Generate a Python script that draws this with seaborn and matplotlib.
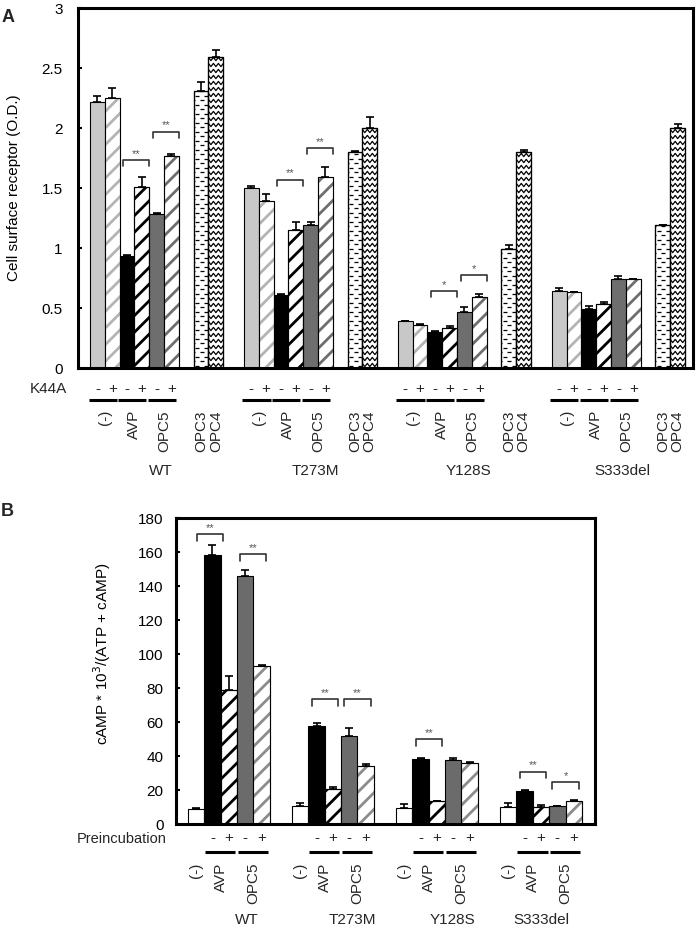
import numpy as np
import pandas as pd
import matplotlib
matplotlib.use('Agg')
import matplotlib.pyplot as plt
import seaborn as sns
from matplotlib.patches import Rectangle
from matplotlib.collections import LineCollection
from matplotlib.transforms import blended_transform_factory

sns.set_theme(style='white')
plt.rcParams['font.family'] = ['Liberation Sans', 'DejaVu Sans']
plt.rcParams['hatch.linewidth'] = 2.0
plt.rcParams['lines.scale_dashes'] = False

W, H = 700, 932

# ---- данные: панель A (поверхностный рецептор, O.D.) ----
mutants = ['WT', 'T273M', 'Y128S', 'S333del']
conds_a = ['(-) -', '(-) +', 'AVP -', 'AVP +', 'OPC5 -', 'OPC5 +', 'OPC3', 'OPC4']
surf_wt = [2.22, 2.25, 0.93, 1.51, 1.28, 1.77, 2.31, 2.59]
surf_wt_err = [0.05, 0.08, 0.01, 0.08, 0.01, 0.015, 0.07, 0.06]
surf_t273m = [1.50, 1.39, 0.61, 1.15, 1.19, 1.59, 1.80, 2.00]
surf_t273m_err = [0.02, 0.06, 0.005, 0.065, 0.03, 0.085, 0.01, 0.09]
surf_y128s = [0.39, 0.36, 0.30, 0.33, 0.47, 0.59, 0.99, 1.80]
surf_y128s_err = [0.005, 0.01, 0.005, 0.02, 0.04, 0.03, 0.035, 0.02]
surf_s333del = [0.64, 0.63, 0.49, 0.53, 0.74, 0.74, 1.19, 2.00]
surf_s333del_err = [0.03, 0.005, 0.025, 0.02, 0.03, 0.005, 0.005, 0.03]

# ---- данные: панель B (cAMP) ----
conds_b = ['(-)', 'AVP -', 'AVP +', 'OPC5 -', 'OPC5 +']
camp_wt = [9.0, 158.0, 79.0, 146.0, 93.0]
camp_wt_err = [0.5, 6.0, 8.0, 3.5, 0.5]
camp_t273m = [10.5, 57.5, 20.5, 52.0, 34.0]
camp_t273m_err = [1.6, 2.0, 1.5, 4.5, 1.5]
camp_y128s = [9.5, 38.5, 13.5, 37.5, 36.0]
camp_y128s_err = [2.2, 0.5, 0.3, 1.6, 0.5]
camp_s333del = [10.0, 19.5, 10.0, 10.5, 13.5]
camp_s333del_err = [2.2, 0.5, 1.4, 0.3, 0.5]

# значимость: (группа, левый, правый, высота, звёзды)
sig_a = [(0, 2, 3, 1.73, '**'), (0, 4, 5, 1.97, '**'),
         (1, 2, 3, 1.57, '**'), (1, 4, 5, 1.83, '**'),
         (2, 2, 3, 0.64, '*'), (2, 4, 5, 0.775, '*')]
sig_b = [(0, 1, 2, 170.4, '**'), (0, 3, 4, 158.8, '**'),
         (1, 1, 2, 73.5, '**'), (1, 3, 4, 73.5, '**'),
         (2, 1, 2, 49.8, '**'),
         (3, 1, 2, 30.8, '**'), (3, 3, 4, 24.5, '*')]

# ---- раскладка ----
slots_a = [0, 1, 2, 3, 4, 5, 7, 8]
period_a = 10.4
slots_b = [0, 1, 2, 3, 4]
period_b = 6.36

styles_a = [('#c8c8c8', None, None), ('white', '//', '#b4b4b4'),
            ('black', None, None), ('white', '//', 'black'),
            ('#6e6e6e', None, None), ('white', '//', '#6e6e6e'),
            ('white', 'dash', None), ('white', 'zigzag', None)]
styles_b = [('white', None, None), ('black', None, None),
            ('white', '//', 'black'), ('#6b6b6b', None, None),
            ('white', '//', '#8c8c8c')]


def make_df(values, errors, conds, slots, period):
    rows = []
    for g, (vals, errs) in enumerate(zip(values, errors)):
        for k, c in enumerate(conds):
            rows.append({'group': mutants[g], 'g': g, 'k': k, 'cond': c,
                         'x': g * period + slots[k],
                         'value': vals[k], 'err': errs[k]})
    return pd.DataFrame(rows)


df_a = make_df([surf_wt, surf_t273m, surf_y128s, surf_s333del],
               [surf_wt_err, surf_t273m_err, surf_y128s_err, surf_s333del_err],
               conds_a, slots_a, period_a)
df_b = make_df([camp_wt, camp_t273m, camp_y128s, camp_s333del],
               [camp_wt_err, camp_t273m_err, camp_y128s_err, camp_s333del_err],
               conds_b, slots_b, period_b)

fig = plt.figure(figsize=(W / 100, H / 100), dpi=100)
ax_a = fig.add_axes([78 / W, 1 - 368 / H, 615 / W, 360 / H])
ax_b = fig.add_axes([176 / W, 1 - 824 / H, 419 / W, 306 / H])


def fy(px):
    return 1 - px / H


def px_scale(ax):
    p0 = ax.transData.transform((0, 0))
    p1 = ax.transData.transform((1, 1))
    return p1[0] - p0[0], p1[1] - p0[1]


def add_pattern(ax, patch, kind):
    sx, sy = px_scale(ax)
    x0, y0 = patch.get_x(), patch.get_y()
    x1, y1 = x0 + patch.get_width(), y0 + patch.get_height()
    segs = []
    if kind == 'zigzag':
        step, amp, dx = 6 / sy, 1.6 / sy, 2.5 / sx
        yr = y0 + step / 2
        while yr < y1:
            xs = np.arange(x0 - dx, x1 + dx, dx)
            ys = yr + amp * np.where(np.arange(len(xs)) % 2 == 0, -1, 1)
            segs.append(np.column_stack([xs, ys]))
            yr += step
    else:
        step, dash, per = 4.5 / sy, 4 / sx, 9 / sx
        yr, row = y0 + step / 2, 0
        while yr < y1:
            xs = x0 + 1.5 / sx + (row % 2) * per / 2 - per
            while xs < x1:
                segs.append([(xs, yr), (xs + dash, yr)])
                xs += per
            yr += step
            row += 1
    lc = LineCollection(segs, colors='black', linewidths=0.9, zorder=patch.get_zorder() + 0.05)
    ax.add_collection(lc)
    lc.set_clip_path(patch)


def draw_bars(ax, df, styles, xlim, ylim):
    sns.barplot(data=df, x='x', y='value', native_scale=True, orient='x',
                width=1.0, errorbar=None, color='white', edgecolor='black',
                linewidth=0.8, ax=ax)
    ax.set_xlim(*xlim)
    ax.set_ylim(*ylim)
    bars = list(ax.patches)
    for p in bars:
        cx = p.get_x() + p.get_width() / 2
        i = int(np.argmin(np.abs(df['x'].values - cx)))
        face, hatch, hcol = styles[df['k'].iloc[i]]
        p.set_facecolor(face)
        if hatch == '//':
            p.set_hatch('//')
            p.set_edgecolor(hcol)
            ax.add_patch(Rectangle((p.get_x(), p.get_y()), p.get_width(), p.get_height(),
                                   fill=False, edgecolor='black', lw=0.8,
                                   zorder=p.get_zorder() + 0.1))
        elif hatch in ('dash', 'zigzag'):
            add_pattern(ax, p, hatch)
            ax.add_patch(Rectangle((p.get_x(), p.get_y()), p.get_width(), p.get_height(),
                                   fill=False, edgecolor='black', lw=0.9,
                                   zorder=p.get_zorder() + 0.1))
    ax.errorbar(df['x'], df['value'], yerr=[np.zeros(len(df)), df['err']],
                fmt='none', ecolor='black', elinewidth=1.2, capsize=3,
                capthick=1.2, zorder=5)
    ax.set_xticks([])
    ax.set_xlabel('')
    for s in ax.spines.values():
        s.set_color('black')
        s.set_linewidth(2.2)
        s.set_visible(True)
    ax.tick_params(axis='y', left=True, direction='in', length=3, width=1.5,
                   color='black', labelsize=11, labelcolor='black')


def brackets(ax, sigs, period, slots, leg, x_left, x_right):
    for g, kl, kr, y, stars in sigs:
        cl = g * period + slots[kl]
        cr = g * period + slots[kr]
        xa, xb = x_left(g, kl, cl), x_right(g, kr, cr)
        ax.plot([xa, xa, xb, xb], [y - leg, y, y, y - leg], color='#333333',
                lw=1.2, zorder=6)
        ax.annotate(stars, ((xa + xb) / 2, y), xytext=(0, 1), textcoords='offset points',
                    ha='center', va='bottom', fontsize=8, color='#555555')


# ---- панель A ----
draw_bars(ax_a, df_a, styles_a, (-1.31, 40.24), (0, 3))
ax_a.set_yticks([0, 0.5, 1, 1.5, 2, 2.5, 3])
ax_a.set_yticklabels(['0', '0.5', '1', '1.5', '2', '2.5', '3'])
ax_a.tick_params(axis='y', pad=11)
ax_a.set_ylabel('Cell surface receptor (O.D.)', fontsize=11, color='black')
ax_a.yaxis.set_label_coords(-0.093, 0.5)
brackets(ax_a, sig_a, period_a, slots_a, 0.05,
         lambda g, k, c: c - 0.25, lambda g, k, c: c + 0.5)

tr_a = blended_transform_factory(ax_a.transData, fig.transFigure)
fig.text(67 / W, fy(389), 'K44A', ha='right', va='center', fontsize=11)
for g in range(4):
    base = g * period_a
    for k in (0, 2, 4):
        cl, cr = base + slots_a[k], base + slots_a[k + 1]
        ax_a.text(cl, fy(389), '-', transform=tr_a, ha='center', va='center', fontsize=11)
        ax_a.text(cr, fy(389), '+', transform=tr_a, ha='center', va='center', fontsize=11)
        ax_a.plot([cl - 0.6, cr + 0.3], [fy(400), fy(400)], transform=tr_a,
                  color='black', lw=2.2, clip_on=False, solid_capstyle='butt')
    for k, lab in ((0, '(-)'), (2, 'AVP'), (4, 'OPC5')):
        ax_a.text(base + slots_a[k] + 0.5, fy(410), lab, transform=tr_a, rotation=90,
                  ha='center', va='top', fontsize=11)
    for k, lab in ((6, 'OPC3'), (7, 'OPC4')):
        ax_a.text(base + slots_a[k], fy(410), lab, transform=tr_a, rotation=90,
                  ha='center', va='top', fontsize=11)
    ax_a.text(base + 4.3, fy(471), mutants[g], transform=tr_a,
              ha='center', va='center', fontsize=11)

# ---- панель B ----
draw_bars(ax_b, df_b, styles_b, (-1.23, 24.38), (0, 180))
ax_b.set_yticks(np.arange(0, 181, 20))
ax_b.tick_params(axis='y', pad=9)
ax_b.set_ylabel('cAMP * 10$^3$/(ATP + cAMP)', fontsize=11, color='black')
ax_b.yaxis.set_label_coords(-0.15, 0.557)
shift_b = {0: -0.66}
brackets(ax_b, sig_b, period_b, slots_b, 4.0,
         lambda g, k, c: c + 0.5 - 0.8 + (shift_b.get(g, 0) if k == 1 else 0),
         lambda g, k, c: c - 0.5 + 0.8 + (shift_b.get(g, 0) if k == 2 else 0))

tr_b = blended_transform_factory(ax_b.transData, fig.transFigure)
fig.text(167 / W, fy(839), 'Preincubation', ha='right', va='center', fontsize=10.5)
label_shift_b = [1.1, 1.2, 0.95, 0.0]
for g in range(4):
    base = g * period_b
    for k in (1, 3):
        cl, cr = base + slots_b[k], base + slots_b[k + 1]
        ax_b.text(cl, fy(838), '-', transform=tr_b, ha='center', va='center', fontsize=11)
        ax_b.text(cr, fy(838), '+', transform=tr_b, ha='center', va='center', fontsize=11)
        ax_b.plot([cl - 0.45, cr + 0.4], [fy(852), fy(852)], transform=tr_b,
                  color='black', lw=2.2, clip_on=False, solid_capstyle='butt')
    ax_b.text(base, fy(863), '(-)', transform=tr_b, rotation=90,
              ha='center', va='top', fontsize=11)
    for k, lab in ((1, 'AVP'), (3, 'OPC5')):
        ax_b.text(base + slots_b[k] + 0.5, fy(863), lab, transform=tr_b, rotation=90,
                  ha='center', va='top', fontsize=11)
    ax_b.text(base + 2 + label_shift_b[g], fy(920), mutants[g], transform=tr_b,
              ha='center', va='center', fontsize=11)

fig.text(2 / W, fy(18), 'A', ha='left', va='center', fontsize=13, fontweight='bold')
fig.text(1 / W, fy(511), 'B', ha='left', va='center', fontsize=13, fontweight='bold')

fig.savefig('out.png', dpi=100, facecolor='white')
